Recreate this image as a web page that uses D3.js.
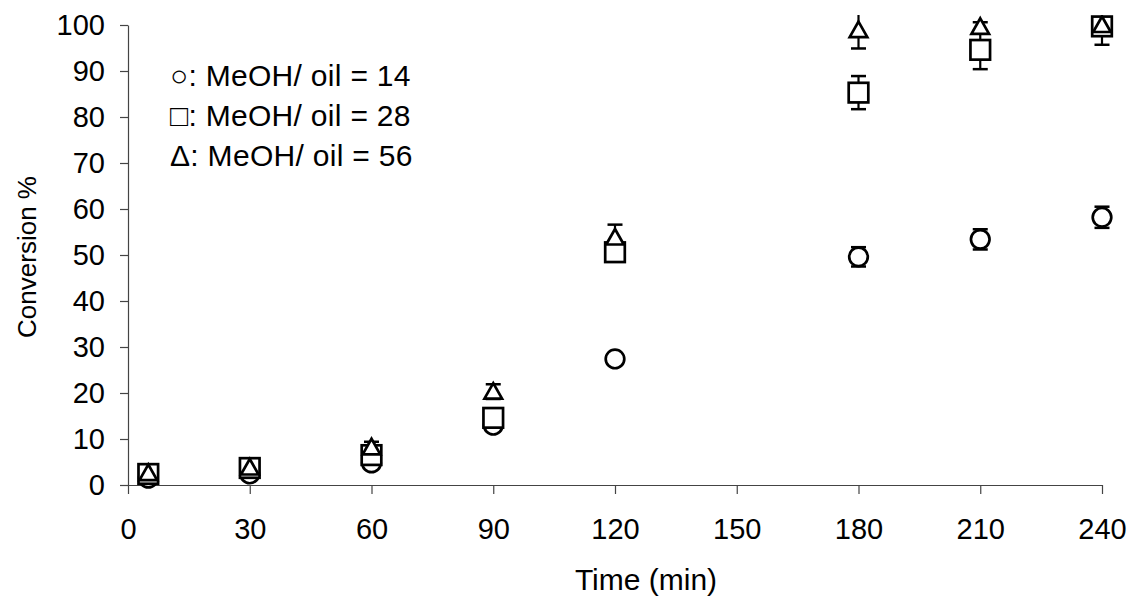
<!DOCTYPE html>
<html>
<head>
<meta charset="utf-8">
<script src="https://cdn.jsdelivr.net/npm/d3@7"></script>
<style>
  body { margin: 0; background: #fff; }
  text { font-family: Arial, "Liberation Sans", sans-serif; fill: #000; }
</style>
</head>
<body>
<div id="chart"></div>
<script>
const width = 1133, height = 597
const times = [5, 30, 60, 90, 120, 180, 210, 240]
const conv14 = [1.5, 2.4, 4.8, 13, 27.4, 49.6, 53.4, 58.2]
const err14 = [0.5, 0.5, 1, 1, 1, 2.1, 2.2, 2.3]
const conv28 = [2.4, 3.7, 6.5, 14.6, 50.6, 85.3, 94.6, 99.7]
const err28 = [0.5, 0.5, 1, 1.2, 1, 3.6, 4.2, 4]
const conv56 = [2.6, 3.8, 8.2, 20.3, 53.8, 98.9, 99.6, 100]
const err56 = [0.5, 0.5, 1.2, 1.6, 2.8, 4, 1, 1]
const xTicks = [0, 30, 60, 90, 120, 150, 180, 210, 240]
const yTicks = [0, 10, 20, 30, 40, 50, 60, 70, 80, 90, 100]
const legendLabels = ["\u25CB: MeOH/ oil = 14", "\u25A1: MeOH/ oil = 28", "\u0394: MeOH/ oil = 56"]

const svg = d3.select("#chart").append("svg").attr("width", width).attr("height", height)

const x = d3.scaleLinear().domain([0, 240]).range([128, 1102])
const y = d3.scaleLinear().domain([0, 100]).range([485, 25])

// ejes
const xAxis = d3.axisBottom(x).tickValues(xTicks).tickSize(9).tickSizeOuter(0).tickPadding(24)
const yAxis = d3.axisLeft(y).tickValues(yTicks).tickSize(8).tickSizeOuter(0).tickPadding(15)

svg.append("g").attr("transform", `translate(0, ${y(0)})`).call(xAxis)
svg.append("g").attr("transform", `translate(${x(0)}, 0)`).call(yAxis)
svg.selectAll(".domain, .tick line").attr("stroke", "#444").attr("stroke-width", 1.2)
svg.selectAll(".tick text").attr("font-size", 29).attr("font-family", "Arial, 'Liberation Sans', sans-serif").attr("fill", "#000")

svg.append("text").attr("x", 646).attr("y", 590).attr("text-anchor", "middle")
  .attr("font-size", 30).text("Time (min)")
svg.append("text").attr("transform", `translate(36, ${y(50) + 2}) rotate(-90)`).attr("text-anchor", "middle")
  .attr("font-size", 26).text("Conversion %")

// recorte de las barras de error por arriba
svg.append("clipPath").attr("id", "clip").append("rect")
  .attr("x", 0).attr("y", y(102.2)).attr("width", width).attr("height", height)

const elementGroup = svg.append("g").attr("clip-path", "url(#clip)")

const series = [
  { vals: conv14, errs: err14, shape: "circle" },
  { vals: conv28, errs: err28, shape: "square" },
  { vals: conv56, errs: err56, shape: "triangle" }
]
const rows = s => times.map((t, i) => ({ t: t, v: s.vals[i], e: s.errs[i] }))

// barras de error (todas primero, detras de los marcadores)
const errGroup = elementGroup.append("g")
series.forEach(s => {
  rows(s).forEach(d => {
    errGroup.append("line").attr("x1", x(d.t)).attr("x2", x(d.t))
      .attr("y1", y(d.v + d.e)).attr("y2", y(d.v - d.e))
      .attr("stroke", "#000").attr("stroke-width", 2.2)
    ;[d.v + d.e, d.v - d.e].forEach(v => {
      errGroup.append("line").attr("x1", x(d.t) - 7.5).attr("x2", x(d.t) + 7.5)
        .attr("y1", y(v)).attr("y2", y(v))
        .attr("stroke", "#000").attr("stroke-width", 2.5)
    })
  })
})

// marcadores
series.forEach(s => {
  const g = elementGroup.append("g")
  rows(s).forEach(d => {
    let m
    if (s.shape === "circle") {
      m = g.append("circle").attr("cx", x(d.t)).attr("cy", y(d.v)).attr("r", 9.3)
    } else if (s.shape === "square") {
      m = g.append("rect").attr("x", x(d.t) - 9.8).attr("y", y(d.v) - 9.8).attr("width", 19.6).attr("height", 19.6)
    } else {
      m = g.append("path").attr("transform", `translate(${x(d.t)}, ${y(d.v)})`)
        .attr("d", "M0,-8.5 L8.8,7 L-8.8,7 Z")
    }
    m.attr("fill", "#fff").attr("stroke", "#000").attr("stroke-width", 2.7)
  })
})

// leyenda
svg.append("g").selectAll("text").data(legendLabels).join("text")
  .attr("x", 170).attr("y", (d, i) => 86 + i * 40)
  .attr("font-size", 30).attr("letter-spacing", 0.3).text(d => d)
</script>
</body>
</html>
